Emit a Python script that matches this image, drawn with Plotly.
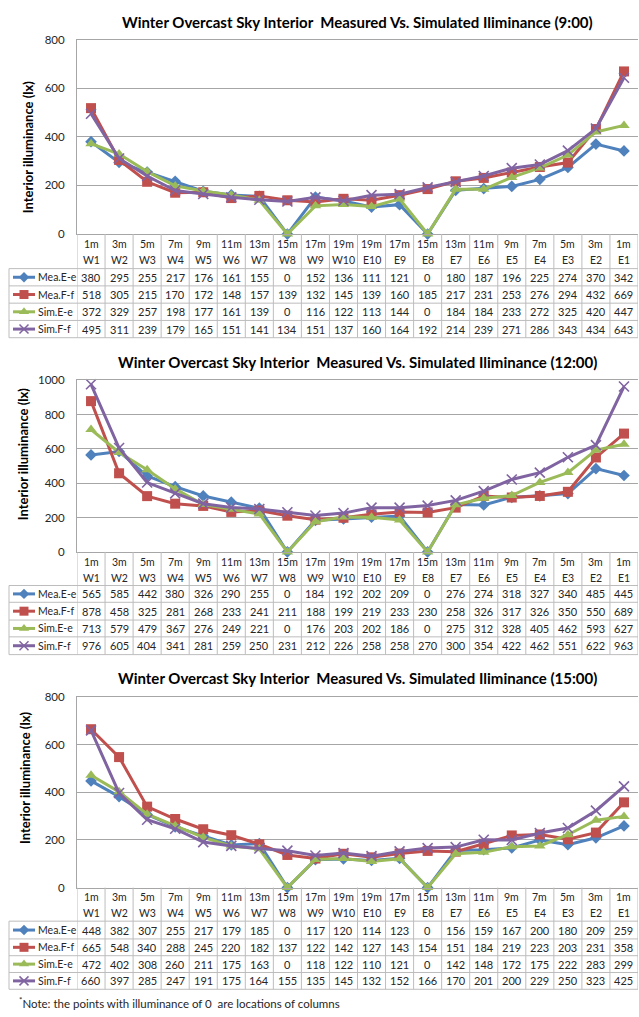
import plotly.graph_objects as go

# ---------------- data ----------------
dist = ["1m", "3m", "5m", "7m", "9m", "11m", "13m", "15m", "17m", "19m",
        "19m", "17m", "15m", "13m", "11m", "9m", "7m", "5m", "3m", "1m"]
pts = ["W1", "W2", "W3", "W4", "W5", "W6", "W7", "W8", "W9", "W10",
       "E10", "E9", "E8", "E7", "E6", "E5", "E4", "E3", "E2", "E1"]
series_names = ["Mea.E-e", "Mea.F-f", "Sim.E-e", "Sim.F-f"]
titles = ["Winter Overcast Sky Interior  Measured Vs. Simulated Iliminance (9:00)",
          "Winter Overcast Sky Interior  Measured Vs. Simulated Iliminance (12:00)",
          "Winter Overcast Sky Interior  Measured Vs. Simulated Iliminance (15:00)"]
y_max = [800, 1000, 800]
y_title = "Interior illuminance (lx)"
note = "Note: the points with illuminance of 0  are locations of columns"

mea_e_0900 = [380, 295, 255, 217, 176, 161, 155, 0, 152, 136, 111, 121, 0, 180, 187, 196, 225, 274, 370, 342]
mea_f_0900 = [518, 305, 215, 170, 172, 148, 157, 139, 132, 145, 139, 160, 185, 217, 231, 253, 276, 294, 432, 669]
sim_e_0900 = [372, 329, 257, 198, 177, 161, 139, 0, 116, 122, 113, 144, 0, 184, 184, 233, 272, 325, 420, 447]
sim_f_0900 = [495, 311, 239, 179, 165, 151, 141, 134, 151, 137, 160, 164, 192, 214, 239, 271, 286, 343, 434, 643]

mea_e_1200 = [565, 585, 442, 380, 326, 290, 255, 0, 184, 192, 202, 209, 0, 276, 274, 318, 327, 340, 485, 445]
mea_f_1200 = [878, 458, 325, 281, 268, 233, 241, 211, 188, 199, 219, 233, 230, 258, 326, 317, 326, 350, 550, 689]
sim_e_1200 = [713, 579, 479, 367, 276, 249, 221, 0, 176, 203, 202, 186, 0, 275, 312, 328, 405, 462, 593, 627]
sim_f_1200 = [976, 605, 404, 341, 281, 259, 250, 231, 212, 226, 258, 258, 270, 300, 354, 422, 462, 551, 622, 963]

mea_e_1500 = [448, 382, 307, 255, 217, 179, 185, 0, 117, 120, 114, 123, 0, 156, 159, 167, 200, 180, 209, 259]
mea_f_1500 = [665, 548, 340, 288, 245, 220, 182, 137, 122, 142, 127, 143, 154, 151, 184, 219, 223, 203, 231, 358]
sim_e_1500 = [472, 402, 308, 260, 211, 175, 163, 0, 118, 122, 110, 121, 0, 142, 148, 172, 175, 222, 283, 299]
sim_f_1500 = [660, 397, 285, 247, 191, 175, 164, 155, 135, 145, 132, 152, 166, 170, 201, 200, 229, 250, 323, 425]

panels_data = [
    [mea_e_0900, mea_f_0900, sim_e_0900, sim_f_0900],
    [mea_e_1200, mea_f_1200, sim_e_1200, sim_f_1200],
    [mea_e_1500, mea_f_1500, sim_e_1500, sim_f_1500],
]

# ---------------- styling / layout geometry ----------------
W, H = 639, 1017
colors = ["#4F81BD", "#C0504D", "#9BBB59", "#8064A2"]
symbols = ["diamond", "square", "triangle-up", "x-thin"]
msizes = [9, 10, 10, 10]
FONT = "Lato"
TXT = "#262626"
GRID = "#a6a6a6"
TGRID = "#bdbdbd"

X0, X1 = 77, 638           # plot left / right in px
LEFT_TBL = 9
geo = [
    dict(title_y=15, top=33, bottom=230, rows=[230, 265, 282.5, 300, 317.5, 335], ylab=(28, 142)),
    dict(title_y=360, top=378, bottom=552, rows=[552, 586, 603, 621, 638, 656], ylab=(23, 453)),
    dict(title_y=680, top=699, bottom=892, rows=[892, 926, 944, 961, 978, 995], ylab=(25, 781)),
]


def fx(x):
    return x / W


def fy(y):
    return 1 - y / H


fig = go.Figure()
annotations = []
shapes = []

for p, g in enumerate(geo):
    ax = "" if p == 0 else str(p + 1)
    xa, ya = "x" + ax, "y" + ax
    for s in range(4):
        fig.add_trace(go.Scatter(
            x=pts, y=panels_data[p][s], name=series_names[s], mode="lines+markers",
            xaxis=xa, yaxis=ya, showlegend=False, cliponaxis=False,
            line=dict(color=colors[s], width=3),
            marker=dict(symbol=symbols[s], size=msizes[s], color=colors[s],
                        line=dict(width=1.6 if s == 3 else 0, color=colors[s])),
        ))
    fig.update_layout(**{
        "xaxis" + ax: dict(domain=[fx(X0), fx(X1)], anchor=ya, type="category",
                           range=[-0.5, len(pts) - 0.5], showticklabels=False,
                           showgrid=False, zeroline=False, showline=True, mirror=True,
                           linecolor=GRID, linewidth=1, ticks=""),
        "yaxis" + ax: dict(domain=[fy(g["bottom"]), fy(g["top"])], anchor=xa,
                           range=[0, y_max[p]], dtick=200, showgrid=True, gridcolor=GRID,
                           gridwidth=1, zeroline=False, showline=True, linecolor=GRID,
                           ticks="", ticklabelstandoff=9,
                           tickfont=dict(family=FONT, size=11.5, color=TXT)),
    })
    # title
    annotations.append(dict(text="<b>" + titles[p] + "</b>", x=fx(357), y=fy(g["title_y"]),
                            xref="paper", yref="paper", xanchor="center", yanchor="middle",
                            showarrow=False, font=dict(family=FONT, size=15, color="#000000")))
    # y title
    annotations.append(dict(text="<b>" + y_title + "</b>", x=fx(g["ylab"][0]), y=fy(g["ylab"][1]),
                            xref="paper", yref="paper", xanchor="center", yanchor="middle",
                            textangle=-90, showarrow=False,
                            font=dict(family=FONT, size=13, color="#000000")))
    rows = g["rows"]
    # header texts
    for i in range(len(pts)):
        annotations.append(dict(text=dist[i], x=pts[i], y=fy(rows[0] + 10), xref=xa, yref="paper",
                                xanchor="center", yanchor="middle", showarrow=False,
                                font=dict(family=FONT, size=10.5, color=TXT)))
        annotations.append(dict(text=pts[i], x=pts[i], y=fy(rows[0] + 26), xref=xa, yref="paper",
                                xanchor="center", yanchor="middle", showarrow=False,
                                font=dict(family=FONT, size=10.5, color=TXT)))
    # data texts
    for s in range(4):
        yc = (rows[s + 1] + rows[s + 2]) / 2
        for i in range(len(pts)):
            annotations.append(dict(text=str(panels_data[p][s][i]), x=pts[i], y=fy(yc),
                                    xref=xa, yref="paper", xanchor="center", yanchor="middle",
                                    showarrow=False, font=dict(family=FONT, size=11, color=TXT)))
        annotations.append(dict(text=series_names[s], x=fx(36), y=fy(yc), xref="paper", yref="paper",
                                xanchor="left", yanchor="middle", showarrow=False,
                                font=dict(family=FONT, size=10.5, color=TXT)))
        # legend key in table (overlay pixel axis)
        fig.add_trace(go.Scatter(
            x=[13, 35], y=[yc, yc], mode="lines", xaxis="x4", yaxis="y4",
            showlegend=False, hoverinfo="skip", line=dict(color=colors[s], width=3),
        ))
        fig.add_trace(go.Scatter(
            x=[24], y=[yc], mode="markers", xaxis="x4", yaxis="y4",
            showlegend=False, hoverinfo="skip",
            marker=dict(symbol=symbols[s], size=msizes[s] - 1, color=colors[s],
                        line=dict(width=1.5 if s == 3 else 0, color=colors[s])),
        ))
    # table lines: vertical
    for k in range(len(pts) + 1):
        shapes.append(dict(type="line", xref=xa, yref="paper", x0=k - 0.5, x1=k - 0.5,
                           y0=fy(rows[0]), y1=fy(rows[-1]), line=dict(color=TGRID, width=1)))
    shapes.append(dict(type="line", xref="paper", yref="paper", x0=fx(LEFT_TBL), x1=fx(LEFT_TBL),
                       y0=fy(rows[1]), y1=fy(rows[-1]), line=dict(color=TGRID, width=1)))
    for r in rows[1:]:
        shapes.append(dict(type="line", xref="paper", yref="paper", x0=fx(LEFT_TBL), x1=fx(X1),
                           y0=fy(r), y1=fy(r), line=dict(color=TGRID, width=1)))

annotations.append(dict(text="<sup>*</sup>" + note,
                        x=fx(17), y=fy(1008), xref="paper", yref="paper", xanchor="left",
                        yanchor="middle", showarrow=False, font=dict(family=FONT, size=11.5, color=TXT)))

fig.update_layout(
    width=W, height=H, margin=dict(l=0, r=0, t=0, b=0),
    paper_bgcolor="white", plot_bgcolor="rgba(0,0,0,0)",
    xaxis4=dict(domain=[0, 1], range=[0, W], visible=False, anchor="y4", fixedrange=True),
    yaxis4=dict(domain=[0, 1], range=[H, 0], visible=False, anchor="x4", fixedrange=True),
    annotations=annotations, shapes=shapes, showlegend=False,
)

fig.write_html("out.html")
